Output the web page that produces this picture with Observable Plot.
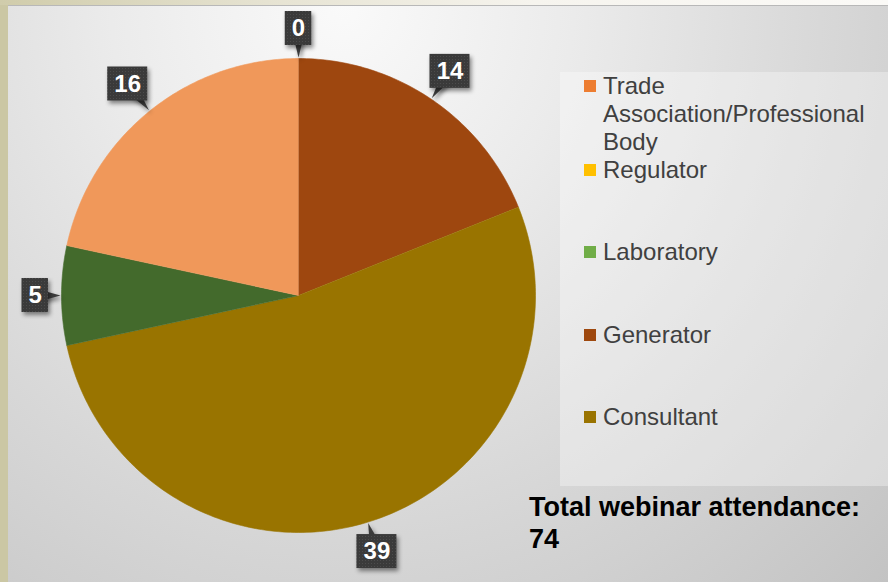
<!DOCTYPE html>
<html><head><meta charset="utf-8">
<script src="https://cdn.jsdelivr.net/npm/d3@7"></script>
<script src="https://cdn.jsdelivr.net/npm/@observablehq/plot@0.6"></script>
<style>
html,body{margin:0;padding:0;}
body{width:888px;height:582px;overflow:hidden;position:relative;background:#cbc7a4;font-family:"Liberation Sans",Arial,sans-serif;}
#topstrip{position:absolute;left:0;top:0;width:888px;height:5px;background:linear-gradient(to right,#d0ccab,#e6e3d2 30%,#f6f4ee 60%,#fbfaf7);}
#panel{position:absolute;left:8px;top:5px;width:880px;height:577px;overflow:hidden;
  background:radial-gradient(ellipse farthest-corner at 38% 0%, #fafafa 0%, #ebebeb 30%, #d8d8d8 62%, #c3c3c3 100%);}
#topline{position:absolute;left:0;top:0;width:880px;height:1px;background:#b8b8b8;}
#legendbg{position:absolute;left:552px;top:67px;width:328px;height:414px;background:rgba(255,255,255,0.33);}
.item{position:absolute;left:576px;display:flex;align-items:flex-start;color:#404040;font-size:24px;line-height:28px;}
.sw{width:12px;height:12px;margin-top:8px;margin-right:7px;flex:none;}
.lt{max-width:285px;}
#total{position:absolute;left:521px;top:486px;font-weight:bold;font-size:27px;line-height:32px;color:#000;}
#chart{position:absolute;left:0;top:0;}
</style></head>
<body>
<div id="topstrip"></div>
<div id="panel">
  <div id="topline"></div>
  <div id="legendbg"></div>
  <div id="chart"></div>
  <div id="legend"></div>
  <div id="total"></div>
</div>
<script>
// ---- data ----
const names = ["Regulator","Generator","Consultant","Laboratory","Trade Association/Professional Body"];
const counts = [0, 14, 39, 5, 16];
const pieColors = ["#FFC000","#9E470F","#997400","#436A2C","#F0985A"];
const legendOrder = ["Trade Association/Professional Body","Regulator","Laboratory","Generator","Consultant"];
const legendColors = ["#ED7D31","#FFC000","#70AD47","#9E480E","#997300"];
const totalLabel = "Total webinar attendance:";

// ---- layout ----
const R = 237, CX = 290, CY = 290, GAP = 13, BOXH = 34;
const legendTops = [67, 151, 233, 316, 398];

const rows = names.map((name, i) => ({name, count: counts[i]}));
const arcs = d3.pie().sort(null).value(d => d.count)(rows);

const slicePts = arcs.filter(a => a.data.count > 0).flatMap(a => {
  const n = Math.max(2, Math.ceil((a.endAngle - a.startAngle) * 180 / Math.PI));
  const pts = [{name: a.data.name, x: 0, y: 0}];
  for (let i = 0; i <= n; i++) {
    const t = a.startAngle + (a.endAngle - a.startAngle) * i / n;
    pts.push({name: a.data.name, x: Math.sin(t), y: Math.cos(t)});
  }
  return pts;
});

const callouts = arcs.map(a => {
  const m = (a.startAngle + a.endAngle) / 2, s = Math.sin(m), c = Math.cos(m);
  const text = String(a.data.count);
  const w = 13.5 * text.length + 13;
  const ed = Math.min(Math.abs(s) > 1e-9 ? (w / 2) / Math.abs(s) : Infinity,
                      Math.abs(c) > 1e-9 ? (BOXH / 2) / Math.abs(c) : Infinity);
  const d = (R + GAP + ed) / R;
  const x = s * d, y = c * d, hw = w / 2 / R, hh = BOXH / 2 / R;
  return {name: a.data.name, text, x, y, x1: x - hw, x2: x + hw, y1: y - hh, y2: y + hh,
          tx: s * (R + 1) / R, ty: c * (R + 1) / R};
});
const pointerPts = callouts.flatMap(o => {
  const dx = o.tx - o.x, dy = o.ty - o.y, L = Math.hypot(dx, dy);
  const px = -dy / L * 7 / R, py = dx / L * 7 / R;
  return [{name: o.name, x: o.tx, y: o.ty}, {name: o.name, x: o.x + px, y: o.y + py}, {name: o.name, x: o.x - px, y: o.y - py}];
});

const chart = Plot.plot({
  width: 880, height: 577, margin: 0,
  x: {domain: [-1, 1], range: [CX - R, CX + R], axis: null},
  y: {domain: [-1, 1], range: [CY + R, CY - R], axis: null},
  color: {domain: names, range: pieColors},
  style: {background: "transparent", overflow: "visible"},
  marks: [
    Plot.line(slicePts, {x: "x", y: "y", z: "name", fill: "name", stroke: "name", strokeWidth: 0.6, curve: "linear"}),
    Plot.line(pointerPts, {x: "x", y: "y", z: "name", fill: "#3c3c3c", stroke: "none"}),
    Plot.rect(callouts, {x1: "x1", x2: "x2", y1: "y1", y2: "y2", fill: "#3c3c3c"}),
    Plot.text(callouts, {x: "x", y: "y", text: "text", fill: "white", fontSize: 24, fontWeight: "bold",
      fontFamily: "Liberation Sans, Arial, sans-serif"})
  ]
});
document.getElementById("chart").append(chart);

// shadows and texture on callouts
const svg = d3.select(chart);
const defs = svg.insert("defs", ":first-child");
const pat = defs.append("pattern").attr("id", "dots").attr("width", 3).attr("height", 3).attr("patternUnits", "userSpaceOnUse");
pat.append("rect").attr("width", 3).attr("height", 3).attr("fill", "#3a3a3a");
pat.append("rect").attr("width", 1).attr("height", 1).attr("fill", "#4c4c4c");
svg.selectAll('g[aria-label="rect"] rect').attr("fill", "url(#dots)");
svg.selectAll('g[aria-label="rect"], g[aria-label="line"]:nth-of-type(n+2)')
  .style("filter", "drop-shadow(2px 3px 2px rgba(0,0,0,0.45))");
svg.selectAll('g[aria-label="line"]').filter((d, i) => i === 1).style("filter", "drop-shadow(2px 3px 2px rgba(0,0,0,0.45))");
svg.selectAll('g[aria-label="line"]').filter((d, i) => i === 0).style("filter", null);

// legend
const legend = document.getElementById("legend");
legendOrder.forEach((n, i) => {
  const item = document.createElement("div");
  item.className = "item";
  item.style.top = legendTops[i] + "px";
  const sw = document.createElement("div");
  sw.className = "sw";
  sw.style.background = legendColors[i];
  const lt = document.createElement("div");
  lt.className = "lt";
  lt.textContent = n;
  item.append(sw, lt);
  legend.append(item);
});
document.getElementById("total").innerHTML = totalLabel + "<br>" + d3.sum(counts);
</script>
</body></html>
